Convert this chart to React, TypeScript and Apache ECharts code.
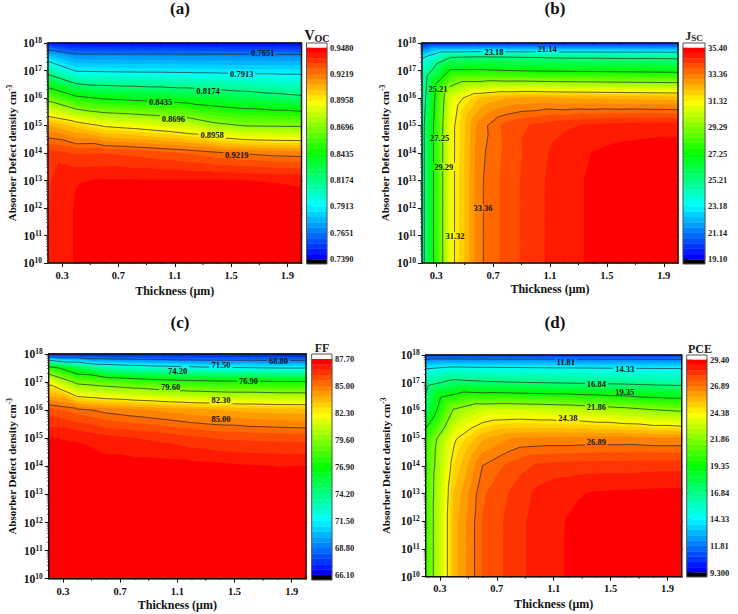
import React, { useEffect, useRef } from "react";
import * as echarts from "echarts";

const SERIF = "'Liberation Serif','Times New Roman',serif";
const thickness = [0.2, 0.4, 0.6, 0.8, 1.0, 1.2, 1.4, 1.6, 1.8, 2.0];
const densityExp = [18, 17.5, 17, 16, 15, 14, 13, 12, 11, 10];
const xMajor = [0.3, 0.7, 1.1, 1.5, 1.9];
const xMinor = [0.5, 0.9, 1.3, 1.7];

const vocGrid = [
  [.748, .742, .742, .742, .742, .742, .742, .742, .742, .742],
  [.7822, .7712, .771, .7708, .7706, .7704, .7702, .77, .7698, .7696],
  [.8092, .7898, .789, .7885, .7884, .7879, .7875, .787, .7868, .7866],
  [.864, .8473, .8416, .8392, .8369, .8345, .8307, .8275, .8239, .8209],
  [.9115, .9028, .8943, .8916, .888, .8832, .8735, .8689, .8682, .8678],
  [.9345, .9315, .932, .9305, .9285, .9262, .9231, .9211, .9196, .9189],
  [.9368, .9425, .943, .943, .943, .943, .943, .9428, .9425, .942],
  [.9372, .9433, .9445, .945, .945, .945, .945, .945, .945, .945],
  [.9372, .9433, .9445, .945, .945, .945, .945, .945, .945, .945],
  [.9372, .9433, .9445, .945, .945, .945, .945, .945, .945, .945],
];
const jscGrid = [
  [19.6, 19.6, 19.7, 19.7, 19.7, 19.7, 19.7, 19.7, 19.7, 19.7],
  [22.9, 25.1, 25.2, 25.15, 25.1, 25, 25, 24.95, 24.95, 24.9],
  [24, 27.4, 27.4, 27.25, 27.15, 27.1, 27.05, 27, 26.95, 26.9],
  [24.4, 30.7, 32.1, 32.5, 32.6, 32.5, 32.45, 32.4, 32.35, 32.3],
  [24.7, 31, 33.1, 33.95, 34.25, 34.5, 34.65, 34.75, 34.8, 34.8],
  [24.7, 31, 33.2, 33.9, 34.4, 34.8, 35, 35.15, 35.2, 35.25],
  [24.7, 31, 33.25, 33.95, 34.45, 34.85, 35.05, 35.2, 35.28, 35.33],
  [24.7, 31, 33.25, 33.95, 34.45, 34.85, 35.05, 35.2, 35.3, 35.35],
  [24.7, 31, 33.25, 33.95, 34.45, 34.85, 35.05, 35.2, 35.3, 35.35],
  [24.7, 31, 33.25, 33.95, 34.45, 34.85, 35.05, 35.2, 35.3, 35.35],
];
const ffGrid = [
  [66.5, 66.5, 66.5, 66.5, 66.5, 66.5, 66.5, 66.5, 66.5, 66.5],
  [77.9, 75.2, 73.25, 72.7, 72.3, 72, 71.75, 71.65, 71.5, 71.5],
  [81.9, 79.2, 78.7, 78.25, 77.8, 77.5, 77.3, 77.3, 77.15, 77.15],
  [85.73, 85.24, 84.8, 84.55, 84.3, 84.05, 83.9, 83.7, 83.6, 83.55],
  [87.17, 87.1, 86.8, 86.6, 86.45, 86.2, 86, 85.95, 85.9, 85.85],
  [87.4, 87.45, 87.4, 87.4, 87.4, 87.35, 87.3, 87.2, 87.15, 87.16],
  [87.45, 87.5, 87.5, 87.5, 87.45, 87.45, 87.4, 87.4, 87.4, 87.4],
  [87.5, 87.5, 87.5, 87.5, 87.5, 87.5, 87.5, 87.5, 87.5, 87.5],
  [87.5, 87.5, 87.5, 87.5, 87.5, 87.5, 87.5, 87.5, 87.5, 87.5],
  [87.5, 87.5, 87.5, 87.5, 87.5, 87.5, 87.5, 87.5, 87.5, 87.5],
];
const pceGrid = [
  [10.6, 10.6, 10.6, 10.6, 10.6, 10.6, 10.6, 10.6, 10.6, 10.6],
  [14.33, 14.92, 14.8, 14.75, 14.65, 14.6, 14.55, 14.5, 14.45, 14.4],
  [16.3, 17.36, 17.1, 16.95, 16.84, 16.75, 16.65, 16.55, 16.4, 16.3],
  [17.6, 22.1, 23.3, 23.43, 23.3, 23.12, 22.8, 22.45, 22, 21.7],
  [20.3, 24.2, 25.75, 26.35, 26.45, 26.45, 26.5, 26.5, 26.4, 26.4],
  [20.45, 24.9, 26.9, 27.55, 28, 28.1, 28.15, 28.15, 28.2, 28.2],
  [20.5, 25.4, 27.3, 27.95, 28.55, 28.8, 28.95, 29, 29.03, 29.05],
  [20.5, 25.6, 27.4, 28.07, 28.65, 28.92, 29.1, 29.2, 29.25, 29.3],
  [20.5, 25.6, 27.4, 28.07, 28.65, 28.93, 29.1, 29.2, 29.25, 29.3],
  [20.5, 25.6, 27.4, 28.07, 28.65, 28.93, 29.1, 29.2, 29.25, 29.3],
];

const vocTicks = ["0.7390", "0.7651", "0.7913", "0.8174", "0.8435", "0.8696", "0.8958", "0.9219", "0.9480"];
const jscTicks = ["19.10", "21.14", "23.18", "25.21", "27.25", "29.29", "31.32", "33.36", "35.40"];
const ffTicks = ["66.10", "68.80", "71.50", "74.20", "76.90", "79.60", "82.30", "85.00", "87.70"];
const pceTicks = ["9.300", "11.81", "14.33", "16.84", "19.35", "21.86", "24.38", "26.89", "29.40"];

const vocLabels: [number, number, string][] = [
  [1.725, 17.63, "0.7651"], [1.576, 16.87, "0.7913"], [1.336, 16.25, "0.8174"], [1.0, 15.87, "0.8435"],
  [1.09, 15.24, "0.8696"], [1.365, 14.65, "0.8958"], [1.54, 13.94, "0.9219"],
];
const jscLabels: [number, number, string][] = [
  [1.08, 17.78, "21.14"], [0.706, 17.66, "23.18"], [0.3125, 16.33, "25.21"], [0.324, 14.53, "27.25"],
  [0.353, 13.5, "29.29"], [0.432, 10.98, "31.32"], [0.629, 11.99, "33.36"],
];
const ffLabels: [number, number, string][] = [
  [1.808, 17.76, "68.80"], [1.405, 17.6, "71.50"], [1.102, 17.41, "74.20"], [1.598, 17.04, "76.90"],
  [1.053, 16.84, "79.60"], [1.405, 16.37, "82.30"], [1.405, 15.69, "85.00"],
];
const pceLabels: [number, number, string][] = [
  [1.185, 17.74, "11.81"], [1.6, 17.5, "14.33"], [1.4, 16.94, "16.84"], [1.6, 16.68, "19.35"],
  [1.4, 16.11, "21.86"], [1.2, 15.71, "24.38"], [1.4, 14.85, "26.89"],
];

const BAND_COUNT = 40;

function bandColor(k: number) {
  const t = k / (BAND_COUNT - 1);
  const stops = [[0, 0, 255], [0, 255, 255], [0, 255, 0], [255, 255, 0], [255, 0, 0]];
  const s = Math.min(3.9999, t * 4);
  const i = Math.floor(s);
  const f = s - i;
  const c = stops[i].map((a, j) => Math.round(a + (stops[i + 1][j] - a) * f));
  return `rgb(${c[0]},${c[1]},${c[2]})`;
}

type P3 = number[];
function clipBand(poly: P3[], limit: number, keepAbove: boolean): P3[] {
  const out: P3[] = [];
  for (let i = 0; i < poly.length; i++) {
    const a = poly[i];
    const b = poly[(i + 1) % poly.length];
    const ina = keepAbove ? a[2] >= limit : a[2] <= limit;
    const inb = keepAbove ? b[2] >= limit : b[2] <= limit;
    if (ina) out.push(a);
    if (ina !== inb) {
      const t = (limit - a[2]) / (b[2] - a[2]);
      out.push([a[0] + (b[0] - a[0]) * t, a[1] + (b[1] - a[1]) * t, limit]);
    }
  }
  return out;
}

function triangleOf(grid: number[][], c: number, r: number, tri: number): P3[] {
  const p = (ci: number, ri: number): P3 => [thickness[ci], densityExp[ri], grid[ri][ci]];
  return tri === 0 ? [p(c, r), p(c + 1, r), p(c + 1, r + 1)] : [p(c, r), p(c + 1, r + 1), p(c, r + 1)];
}

function cutOut(a: number[], b: number[], box: number[]): number[][][] {
  const dx = b[0] - a[0];
  const dy = b[1] - a[1];
  let t0 = 0;
  let t1 = 1;
  const ps = [-dx, dx, -dy, dy];
  const qs = [a[0] - box[0], box[2] - a[0], a[1] - box[1], box[3] - a[1]];
  for (let i = 0; i < 4; i++) {
    if (ps[i] === 0) {
      if (qs[i] < 0) return [[a, b]];
    } else {
      const t = qs[i] / ps[i];
      if (ps[i] < 0) t0 = Math.max(t0, t);
      else t1 = Math.min(t1, t);
    }
  }
  if (t0 >= t1) return [[a, b]];
  const res: number[][][] = [];
  if (t0 > 0) res.push([a, [a[0] + dx * t0, a[1] + dy * t0]]);
  if (t1 < 1) res.push([[a[0] + dx * t1, a[1] + dy * t1], b]);
  return res;
}

const cellData: number[][] = [];
for (let r = 0; r < densityExp.length - 1; r++) {
  for (let c = 0; c < thickness.length - 1; c++) {
    cellData.push([thickness[c], Math.pow(10, densityExp[r]), c, r, 0]);
    cellData.push([thickness[c], Math.pow(10, densityExp[r]), c, r, 1]);
  }
}
const yMinorData: number[][] = [];
for (let e = 10; e < 18; e++) for (let k = 2; k <= 9; k++) yMinorData.push([0.2, k * Math.pow(10, e)]);

const panels = [
  { grid: vocGrid, ticks: vocTicks, labels: vocLabels, hidden: [] as number[], plot: [48, 43, 301.5, 263], bar: [306.5, 43, 327, 264], ext: 4.6, tag: "(a)", tagX: 180, tagY: 0, nameGap: 30, xGap: 22, xMargin: 7,
    barTitle: "{b|V}{s|OC}", barTitleRich: { b: { fontSize: 14, fontWeight: "bold", fontFamily: SERIF, color: "#111" }, s: { fontSize: 10, fontWeight: "bold", fontFamily: SERIF, color: "#111", padding: [5, 0, 0, 0] } }, barTitleX: 317, barTitleY: 28 },
  { grid: jscGrid, ticks: jscTicks, labels: jscLabels, hidden: [21.14], plot: [422, 43, 678, 263], bar: [683, 43, 705, 264], ext: 4.6, tag: "(b)", tagX: 555, tagY: 0, nameGap: 31, xGap: 20, xMargin: 7,
    barTitle: "{b|J}{s|SC}", barTitleRich: { b: { fontSize: 12, fontFamily: SERIF, color: "#222" }, s: { fontSize: 9, fontFamily: SERIF, color: "#222", padding: [4, 0, 0, 0] } }, barTitleX: 694, barTitleY: 29 },
  { grid: ffGrid, ticks: ffTicks, labels: ffLabels, hidden: [74.2], plot: [48.7, 354, 306, 578.7], bar: [311.7, 354, 332, 580], ext: 5, tag: "(c)", tagX: 180, tagY: 314, nameGap: 30, xGap: 20, xMargin: 7,
    barTitle: "{b|FF}", barTitleRich: { b: { fontSize: 12, fontFamily: SERIF, color: "#222" } }, barTitleX: 322, barTitleY: 342 },
  { grid: pceGrid, ticks: pceTicks, labels: pceLabels, hidden: [] as number[], plot: [425.7, 355, 681.7, 576.7], bar: [686.7, 355, 707, 577], ext: 4.5, tag: "(d)", tagX: 555, tagY: 314, nameGap: 33, xGap: 21, xMargin: 6,
    barTitle: "{b|PCE}", barTitleRich: { b: { fontSize: 12, fontFamily: SERIF, color: "#222" } }, barTitleX: 700, barTitleY: 343 },
];

function buildOption() {
  const grids: any[] = [];
  const xAxes: any[] = [];
  const yAxes: any[] = [];
  const series: any[] = [];
  const titles: any[] = [];

  panels.forEach((pn, i) => {
    const pi = i * 2;
    const bi = i * 2 + 1;
    const [l, t, r, b] = pn.plot;
    const vmin = parseFloat(pn.ticks[0]);
    const vmax = parseFloat(pn.ticks[pn.ticks.length - 1]);
    const step = (vmax - vmin) / BAND_COUNT;
    const levels = pn.ticks.slice(1, -1).map(parseFloat).filter((v) => !pn.hidden.includes(v));

    grids.push({ left: l, top: t, width: r - l, height: b - t, show: false });
    xAxes.push({
      gridIndex: pi, type: "value", min: 0.2, max: 2.0, splitLine: { show: false },
      axisLine: { show: false },
      axisTick: { show: true, customValues: xMajor, length: 4, lineStyle: { color: "#111", width: 1 } },
      axisLabel: { show: true, customValues: xMajor, formatter: (v: number) => v.toFixed(1), fontFamily: SERIF, fontWeight: "bold", fontSize: 10.5, color: "#111", margin: pn.xMargin },
      name: "Thickness (\u03bcm)", nameLocation: "middle", nameGap: pn.xGap,
      nameTextStyle: { fontFamily: SERIF, fontWeight: "bold", fontSize: 12, color: "#111" },
    });
    yAxes.push({
      gridIndex: pi, type: "log", logBase: 10, min: 1e10, max: 1e18, interval: 1, splitLine: { show: false },
      axisLine: { show: false },
      axisTick: { show: true, length: 4, lineStyle: { color: "#111", width: 1 } },
      minorTick: { show: false },
      axisLabel: {
        show: true, margin: 6,
        formatter: (v: number) => `{b|10}{s|${Math.round(Math.log10(v))}}`,
        rich: {
          b: { fontFamily: SERIF, fontWeight: "bold", fontSize: 11.5, color: "#111" },
          s: { fontFamily: SERIF, fontWeight: "bold", fontSize: 7.5, color: "#111", padding: [0, 0, 5, 0] },
        },
      },
      name: "Absorber Defect density cm{s|-3}", nameLocation: "middle", nameGap: pn.nameGap,
      nameTextStyle: {
        fontFamily: SERIF, fontWeight: "bold", fontSize: 11, color: "#111",
        rich: { s: { fontFamily: SERIF, fontWeight: "bold", fontSize: 7.5, color: "#111", padding: [0, 0, 5, 0] } },
      },
    });

    const [bl, bt, br, bb] = pn.bar;
    const tickSpan = bb - bt - 2 * pn.ext;
    const ext = (pn.ext / tickSpan) * (vmax - vmin);
    grids.push({ left: bl, top: bt, width: br - bl, height: bb - bt, show: false });
    xAxes.push({ gridIndex: bi, type: "value", min: 0, max: 1, show: false });
    yAxes.push({
      gridIndex: bi, type: "value", position: "right", min: vmin - ext, max: vmax + ext, splitLine: { show: false },
      axisLine: { show: false },
      axisTick: { show: true, customValues: pn.ticks.map(parseFloat), length: 5, lineStyle: { color: "#444", width: 1 } },
      axisLabel: {
        show: true, customValues: pn.ticks.map(parseFloat), margin: 3,
        formatter: (v: number) => {
          let best = pn.ticks[0];
          pn.ticks.forEach((s) => { if (Math.abs(parseFloat(s) - v) < Math.abs(parseFloat(best) - v)) best = s; });
          return best;
        },
        fontFamily: SERIF, fontWeight: "bold", fontSize: 8.5, color: "#222",
      },
    });

    // filled contour bands
    series.push({
      type: "custom", xAxisIndex: pi, yAxisIndex: pi, z: 2, silent: true, data: cellData, encode: { x: 0, y: 1 },
      renderItem: (_: any, api: any) => {
        const tri = triangleOf(pn.grid, api.value(2), api.value(3), api.value(4));
        const vs = tri.map((p) => p[2]);
        const k0 = Math.max(0, Math.floor((Math.min(...vs) - vmin) / step));
        const k1 = Math.min(BAND_COUNT - 1, Math.floor((Math.max(...vs) - vmin) / step));
        const children: any[] = [];
        for (let k = k0; k <= k1; k++) {
          let poly = tri;
          if (k > 0) poly = clipBand(poly, vmin + k * step, true);
          if (k < BAND_COUNT - 1 && poly.length) poly = clipBand(poly, vmin + (k + 1) * step, false);
          if (poly.length < 3) continue;
          const fill = bandColor(k);
          children.push({
            type: "polygon",
            shape: { points: poly.map((p) => api.coord([p[0], Math.pow(10, p[1])])) },
            style: { fill, stroke: fill, lineWidth: 1.2 },
          });
        }
        return { type: "group", children };
      },
    });

    // contour lines
    series.push({
      type: "custom", xAxisIndex: pi, yAxisIndex: pi, z: 3, silent: true, data: cellData, encode: { x: 0, y: 1 },
      renderItem: (_: any, api: any) => {
        const tri = triangleOf(pn.grid, api.value(2), api.value(3), api.value(4));
        const boxes = pn.labels.map((lb) => {
          const c = api.coord([lb[0], Math.pow(10, lb[1])]);
          const hw = lb[2].length * 2.1 + 1;
          return [c[0] - hw, c[1] - 4, c[0] + hw, c[1] + 4];
        });
        const children: any[] = [];
        levels.forEach((lv) => {
          const pts: number[][] = [];
          for (let e = 0; e < 3; e++) {
            const a = tri[e];
            const e2 = tri[(e + 1) % 3];
            if ((a[2] < lv) !== (e2[2] < lv)) {
              const f = (lv - a[2]) / (e2[2] - a[2]);
              pts.push(api.coord([a[0] + (e2[0] - a[0]) * f, Math.pow(10, a[1] + (e2[1] - a[1]) * f)]));
            }
          }
          if (pts.length < 2) return;
          let segs: number[][][] = [[pts[0], pts[1]]];
          boxes.forEach((bx) => { segs = segs.flatMap((s) => cutOut(s[0], s[1], bx)); });
          segs.forEach((s) => children.push({
            type: "line",
            shape: { x1: s[0][0], y1: s[0][1], x2: s[1][0], y2: s[1][1] },
            style: { stroke: "rgba(45,45,45,0.72)", lineWidth: 1 },
          }));
        });
        return { type: "group", children };
      },
    });

    // contour labels
    series.push({
      type: "custom", xAxisIndex: pi, yAxisIndex: pi, z: 4, silent: true, encode: { x: 0, y: 1 },
      data: pn.labels.map((lb) => [lb[0], Math.pow(10, lb[1]), lb[2]]),
      dimensions: ["x", "y", { name: "t", type: "ordinal" }],
      renderItem: (params: any, api: any) => {
        const lb = pn.labels[params.dataIndex];
        const c = api.coord([lb[0], Math.pow(10, lb[1])]);
        return {
          type: "text", x: c[0], y: c[1],
          style: { text: lb[2], fill: "#111", font: `bold 8.5px ${SERIF}`, align: "center", verticalAlign: "middle" },
        };
      },
    });

    // frame and minor ticks
    series.push({
      type: "custom", xAxisIndex: pi, yAxisIndex: pi, z: 5, silent: true, encode: { x: 0, y: 1 }, clip: false,
      data: [[0.2, 1e10]],
      renderItem: (_: any, api: any) => {
        const a = api.coord([0.2, 1e18]);
        const c = api.coord([2.0, 1e10]);
        return {
          type: "rect", shape: { x: a[0], y: a[1], width: c[0] - a[0], height: c[1] - a[1] },
          style: { fill: "none", stroke: "#111", lineWidth: 1.4 },
        };
      },
    });
    series.push({
      type: "custom", xAxisIndex: pi, yAxisIndex: pi, z: 5, silent: true, encode: { x: 0, y: 1 }, clip: false,
      data: yMinorData,
      renderItem: (_: any, api: any) => {
        const c = api.coord([api.value(0), api.value(1)]);
        return { type: "line", shape: { x1: c[0] - 2, y1: c[1], x2: c[0], y2: c[1] }, style: { stroke: "#333", lineWidth: 0.7 } };
      },
    });
    series.push({
      type: "custom", xAxisIndex: pi, yAxisIndex: pi, z: 5, silent: true, encode: { x: 0, y: 1 }, clip: false,
      data: xMinor.map((x) => [x, 1e10]),
      renderItem: (_: any, api: any) => {
        const c = api.coord([api.value(0), api.value(1)]);
        return { type: "line", shape: { x1: c[0], y1: c[1], x2: c[0], y2: c[1] + 2 }, style: { stroke: "#111", lineWidth: 1 } };
      },
    });

    // colour bar
    const bandData: number[][] = [];
    for (let k = 0; k < BAND_COUNT; k++) bandData.push([0, vmin + k * step, k]);
    series.push({
      type: "custom", xAxisIndex: bi, yAxisIndex: bi, z: 2, silent: true, encode: { x: 0, y: 1 }, data: bandData,
      renderItem: (_: any, api: any) => {
        const k = api.value(2);
        const a = api.coord([0, vmin + (k + 1) * step]);
        const c = api.coord([1, vmin + k * step]);
        const fill = bandColor(k);
        return { type: "rect", shape: { x: a[0], y: a[1], width: c[0] - a[0], height: c[1] - a[1] }, style: { fill, stroke: fill, lineWidth: 0.4 } };
      },
    });
    series.push({
      type: "custom", xAxisIndex: bi, yAxisIndex: bi, z: 3, silent: true, encode: { x: 0, y: 1 }, clip: false, data: [[0, vmin]],
      renderItem: (_: any, api: any) => {
        const top = api.coord([0, vmax + ext]);
        const upper = api.coord([1, vmin]);
        const bottom = api.coord([1, vmin - ext]);
        const hi = api.coord([1, vmax]);
        return {
          type: "group",
          children: [
            { type: "rect", shape: { x: top[0], y: upper[1], width: upper[0] - top[0], height: bottom[1] - upper[1] }, style: { fill: "#000" } },
            { type: "rect", shape: { x: top[0], y: top[1], width: hi[0] - top[0], height: hi[1] - top[1] }, style: { fill: "#fff" } },
            { type: "rect", shape: { x: top[0], y: top[1], width: hi[0] - top[0], height: bottom[1] - top[1] }, style: { fill: "none", stroke: "#555", lineWidth: 1 } },
          ],
        };
      },
    });

    titles.push({
      text: pn.tag, left: pn.tagX, top: pn.tagY, textAlign: "center", padding: 0,
      textStyle: { fontFamily: SERIF, fontWeight: "bold", fontSize: 17, color: "#111" },
    });
    titles.push({
      text: pn.barTitle, left: pn.barTitleX, top: pn.barTitleY, textAlign: "center", padding: 0,
      textStyle: { rich: pn.barTitleRich },
    });
  });

  return {
    animation: false,
    backgroundColor: "#ffffff",
    title: titles,
    grid: grids,
    xAxis: xAxes,
    yAxis: yAxes,
    series,
  };
}

export default function App() {
  const ref = useRef<HTMLDivElement>(null);
  useEffect(() => {
    if (!ref.current) return;
    const chart = echarts.init(ref.current, undefined, { renderer: "svg" });
    chart.setOption(buildOption() as any);
    return () => chart.dispose();
  }, []);
  return <div ref={ref} style={{ position: "fixed", left: 0, top: 0, width: 738, height: 614 }} />;
}
